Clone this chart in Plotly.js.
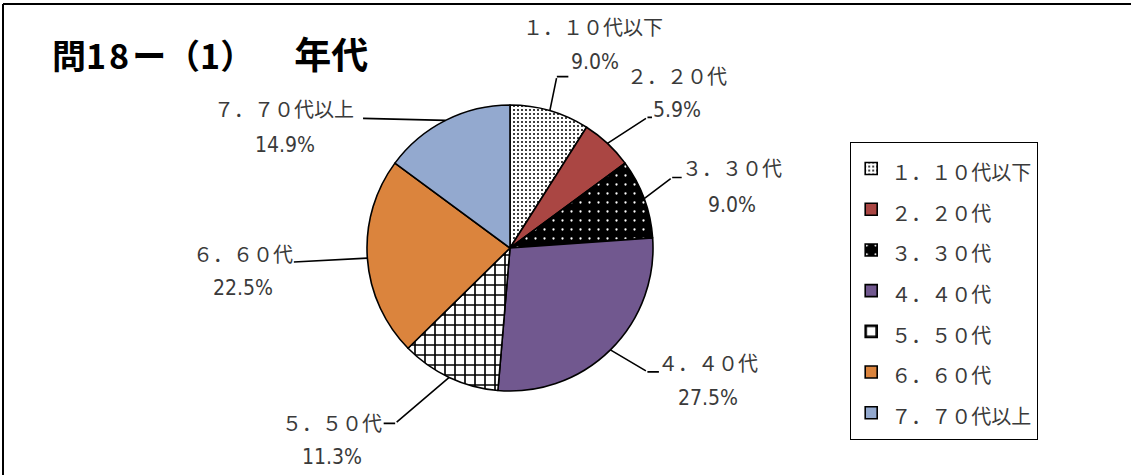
<!DOCTYPE html>
<html>
<head>
<meta charset="utf-8">
<script src="https://cdn.plot.ly/plotly-3.0.1.min.js"></script>
<style>html,body{margin:0;padding:0;background:#fff;}#chart{width:1131px;height:475px;}</style>
</head>
<body>
<div id="chart"></div>
<script>
// ---- data ----
const categories = ['１．１０代以下', '２．２０代', '３．３０代', '４．４０代', '５．５０代', '６．６０代', '７．７０代以上'];
const values = [9.0, 5.9, 9.0, 27.5, 11.3, 22.5, 14.9];
const titleText = '問<span style="letter-spacing:3px">18</span>ー（1）　   <span style="font-size:37px">年代</span>';

// ---- styles ----
const sliceColors = ['#ffffff', '#AA4643', '#000000', '#71588F', '#ffffff', '#DB843D', '#93A9CF'];
const patShape = ['.', '', '.', '', '+', '', ''];
const patFg = ['#000000', '#000000', '#ffffff', '#000000', '#000000', '#000000', '#000000'];
const patBg = ['#ffffff', '#AA4643', '#000000', '#71588F', '#ffffff', '#DB843D', '#93A9CF'];
const patSize = [4, 8, 9, 8, 10, 8, 8];
const patSolid = [0.2, 0.3, 0.05, 0.3, 0.3, 0.3, 0.3];

// layout geometry (pixels)
const W = 1131, H = 475;
const CX = 510, CY = 248, R = 143;
// leader bends / ends and label offsets relative to each slice's edge midpoint
const bends = [[7,-34],[40,-26],[28,-21],[37,22],[-54,46],[-75,4],[-84,-2]];
const ends  = [[20,-34],[46,-26],[39,-21],[50,22],[-67,46],[-75,4],[-84,-2]];
const lab1  = [[43,-84],[70,-68],[88,-31],[98,13],[-117,45],[-124,-5],[-162,-12]];
const lab2  = [[45,-49],[70,-33],[88,6],[98,48],[-117,80],[-124,30],[-161,25]];

const px = x => x / W;
const py = y => 1 - y / H;

const total = values.reduce((a, b) => a + b, 0);
const annotations = [];
let cum = 0;
values.forEach((v, i) => {
  const mid = (cum + v / 2) / total * 2 * Math.PI;
  cum += v;
  const ex = CX + R * Math.sin(mid), ey = CY - R * Math.cos(mid);
  const b = bends[i], e = ends[i];
  annotations.push({x: px(ex), y: py(ey), xref: 'paper', yref: 'paper', text: '', showarrow: true,
    arrowhead: 0, arrowwidth: 1.6, arrowcolor: '#000', ax: b[0], ay: b[1]});
  if (e[0] !== b[0] || e[1] !== b[1]) {
    annotations.push({x: px(ex + b[0]), y: py(ey + b[1]), xref: 'paper', yref: 'paper', text: '', showarrow: true,
      arrowhead: 0, arrowwidth: 1.6, arrowcolor: '#000', ax: e[0] - b[0], ay: e[1] - b[1]});
  }
  annotations.push({x: px(ex + lab1[i][0]), y: py(ey + lab1[i][1]), xref: 'paper', yref: 'paper',
    text: categories[i], showarrow: false, xanchor: 'center', yanchor: 'middle',
    font: {family: 'Noto Sans CJK JP', size: 20, color: '#3a3a3a'}});
  annotations.push({x: px(ex + lab2[i][0]), y: py(ey + lab2[i][1]), xref: 'paper', yref: 'paper',
    text: v.toFixed(1) + '%', showarrow: false, xanchor: 'center', yanchor: 'middle',
    font: {family: 'Liberation Sans Narrow, DejaVu Sans Condensed, Liberation Sans', size: 21, color: '#3a3a3a'}});
});

const trace = {
  type: 'pie',
  values: values,
  labels: categories.map(c => '<span style="font-size:20px">' + c + '</span>'),
  sort: false,
  direction: 'clockwise',
  rotation: 0,
  textinfo: 'none',
  hoverinfo: 'label+percent',
  marker: {
    colors: sliceColors,
    line: {color: '#000', width: 1.6},
    pattern: {shape: patShape, fgcolor: patFg, bgcolor: patBg, size: patSize, solidity: patSolid, fillmode: 'replace'}
  },
  domain: {x: [(CX - R) / W, (CX + R) / W], y: [1 - (CY + R) / H, 1 - (CY - R) / H]}
};

const layout = {
  width: W, height: H,
  margin: {l: 0, r: 0, t: 0, b: 0},
  paper_bgcolor: '#fff',
  font: {family: 'Noto Sans CJK JP', color: '#333'},
  title: {text: titleText, x: 52 / W, xanchor: 'left', xref: 'paper', y: 1 - 57 / H, yref: 'container', yanchor: 'middle',
    font: {family: 'Noto Sans CJK JP', size: 34, weight: 'bold', color: '#000'}},
  showlegend: true,
  legend: {x: 850 / W, y: 1 - 142 / H, xanchor: 'left', yanchor: 'top', bgcolor: '#fff', bordercolor: '#000', borderwidth: 1.2,
    font: {family: 'Noto Sans CJK JP', size: 29, color: '#3a3a3a'}, traceorder: 'normal'},
  annotations: annotations,
  shapes: [
    {type: 'line', xref: 'paper', yref: 'paper', x0: px(3), x1: 1, y0: py(4), y1: py(4), line: {color: '#000', width: 2}},
    {type: 'line', xref: 'paper', yref: 'paper', x0: px(3), x1: px(3), y0: py(4), y1: 0, line: {color: '#000', width: 2}}
  ]
};

Plotly.newPlot('chart', [trace], layout, {displayModeBar: false, staticPlot: true});
</script>
</body>
</html>
